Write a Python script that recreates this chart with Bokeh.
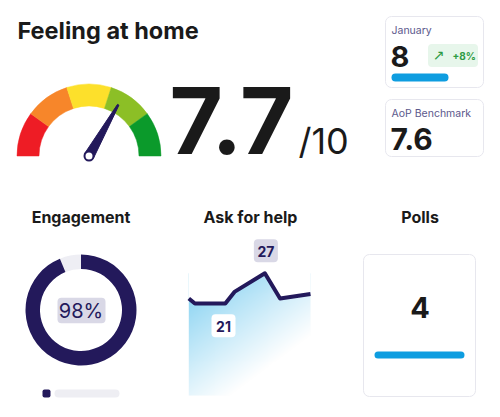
import numpy as np
from bokeh.plotting import figure
from bokeh.models import Range1d
from bokeh.core.properties import value
from bokeh.embed import file_html
from bokeh.resources import INLINE

# ---------------- data ----------------
page_title = "Feeling at home"
score = 7.7
score_suffix = "/10"
gauge_min, gauge_max = 0, 10
gauge_bands = [0, 2, 4, 6, 8, 10]
gauge_colors = ["#EE1C25", "#F7862A", "#FDE02B", "#8CBF26", "#0B9A2B"]
needle_reading = 6.65  # where the pointer sits on the 0-10 dial

card_labels = ["January", "AoP Benchmark"]
card_values = ["8", "7.6"]
month_change = "+8%"

section_titles = ["Engagement", "Ask for help", "Polls"]
engagement_pct = 98
engagement_ring_share = 93.8  # filled share of the ring as drawn

help_x = [0, 1, 6, 7.5, 12.5, 15, 20]
help_count = [22, 21, 21, 23.3, 27, 22, 22.9]
help_floor = 2.7

polls_count = 4

# ---------------- styling ----------------
NAVY = "#23195B"
INK = "#1A1A1A"
BLUE = "#0E9DE0"
CARD_LINE = "#E7E7EE"
LAV = "#D9D8E6"
FONT = value("Inter")
MID = 0.36  # cap-middle above baseline, in em

W, H = 484, 401
X0, Y0 = 0, 0

p = figure(width=W, height=H, x_range=Range1d(X0, X0 + W), y_range=Range1d(-(Y0 + H), -Y0),
           x_axis_type=None, y_axis_type=None, output_backend="svg", toolbar_location=None,
           min_border=0, outline_line_color=None, background_fill_color="white",
           border_fill_color="white")


def txt(x, y, s, size, color=INK, style="normal", align="left", font=FONT, **kw):
    # y is the baseline position in page pixels
    p.text(x=[x], y=[-(y - MID * size)], text=[s], text_font=font, text_font_size=f"{size}px",
           text_color=color, text_font_style=style, text_align=align,
           text_baseline="middle", **kw)


def box(l, r, t, b, fill, line=None, radius=4, lw=1):
    p.quad(left=[l], right=[r], top=[-t], bottom=[-b], fill_color=fill,
           line_color=line, line_width=lw, border_radius=int(radius))


# title
txt(17, 38.3, page_title, 23.5, style="bold")

# gauge
GX, GY, R_IN, R_OUT = 88.5, 155.5, 50, 72


def gauge_angle(v):
    return np.pi * (1 - (v - gauge_min) / (gauge_max - gauge_min))


starts = [gauge_angle(b) for b in gauge_bands[1:]]
ends = [gauge_angle(a) for a in gauge_bands[:-1]]
p.annular_wedge(x=[GX] * len(gauge_colors), y=[-GY] * len(gauge_colors),
                inner_radius=R_IN, outer_radius=R_OUT, start_angle=starts, end_angle=ends,
                fill_color=gauge_colors, line_color=gauge_colors, line_width=0.5)

th = gauge_angle(needle_reading)
d = np.array([np.cos(th), np.sin(th)])
n = np.array([-np.sin(th), np.cos(th)])
c = np.array([GX, -GY])
L, hb, ht = 59, 5, 0.8
pts = [c + n * hb, c + d * L + n * ht, c + d * L - n * ht, c - n * hb]
p.patch([q[0] for q in pts], [q[1] for q in pts], fill_color=NAVY, line_color=NAVY, line_width=1)
p.scatter(x=[GX], y=[-GY], size=9, marker="circle", fill_color="white", line_color=NAVY, line_width=2)

# big score
txt(169, 153, f"{score:.1f}", 92, style="bold")
txt(298, 153, score_suffix, 36, color=INK)

# cards
box(385, 483, 16, 87, "white", CARD_LINE, radius=6)
box(385, 483, 99, 156, "white", CARD_LINE, radius=6)
txt(391, 33.5, card_labels[0], 10.5, color="#5C588C")
txt(390, 66, card_values[0], 29, style="bold")
box(427.5, 477.5, 43.5, 66.5, "#E7F6EB", None, radius=4)
txt(438, 59.5, "\u2197", 14, color="#2E9B45", align="center", font=value("DejaVu Sans"))
txt(452, 59, month_change, 10, color="#2E9B45", style="bold")
box(391, 448, 73, 81, BLUE, None, radius=4)
txt(391, 117, card_labels[1], 10.5, color="#5C588C")
txt(390, 149, card_values[1], 30, style="bold")

# section titles
for cx, t in zip([80.5, 250, 419.5], section_titles):
    txt(cx, 222, t, 16, style="bold", align="center")

# engagement donut
DX, DY, D_IN, D_OUT = 80.5, 309.5, 41, 55.5
gap = 2 * np.pi * (1 - engagement_ring_share / 100)
p.annular_wedge(x=[DX], y=[-DY], inner_radius=D_IN, outer_radius=D_OUT,
                start_angle=np.pi / 2, end_angle=np.pi / 2 + gap,
                fill_color="#EEEEF4", line_color=None)
p.annular_wedge(x=[DX], y=[-DY], inner_radius=D_IN, outer_radius=D_OUT,
                start_angle=np.pi / 2 + gap, end_angle=np.pi / 2 + 2 * np.pi,
                fill_color=NAVY, line_color=None)
box(57, 105, 297.3, 322.7, LAV, None, radius=4)
txt(DX, 317.7, f"{engagement_pct}%", 20, color=NAVY, align="center")
box(42, 50, 389, 397, NAVY, None, radius=2)
box(54, 119, 389, 397, "#EEEEF3", None, radius=4)

# ask for help area chart (own scales mapped into its box)
BX_L, BX_R, BY_B, BY_T = 188.3, 310.0, 395.0, 272.8
hx_lo, hx_hi = min(help_x), max(help_x)
hy_lo, hy_hi = help_floor, max(help_count)
kx = (BX_R - BX_L) / (hx_hi - hx_lo)
ky = (BY_B - BY_T) / (hy_hi - hy_lo)
sx = hx_lo - (BX_L - X0) / kx
sy = hy_lo - ((Y0 + H) - BY_B) / ky
p.extra_x_ranges = {"hx": Range1d(sx, sx + W / kx)}
p.extra_y_ranges = {"hy": Range1d(sy, sy + H / ky)}
R = dict(x_range_name="hx", y_range_name="hy")

nx, ny = 124, 124
u = np.linspace(0, 1, nx)[None, :]
v = 1 - np.linspace(0, 1, ny)[:, None]   # 0 at top, row 0 at bottom
t = np.clip(0.6 * u + 0.8 * v, 0, 1) ** 0.9
A = np.array([118, 204, 240])
img = np.empty((ny, nx), dtype=np.uint32)
view = img.view(dtype=np.uint8).reshape((ny, nx, 4))
for ch in range(3):
    view[:, :, ch] = (A[ch] * (1 - t) + 255 * t).astype(np.uint8)
view[:, :, 3] = 255
p.image_rgba(image=[img], x=hx_lo, y=hy_lo, dw=hx_hi - hx_lo, dh=hy_hi - hy_lo, **R)
p.varea(x=help_x, y1=help_count, y2=[hy_hi + 1] * len(help_x), fill_color="white", **R)
p.line(help_x, help_count, line_width=4, line_color=NAVY, line_join="round", **R)

imax = int(np.argmax(help_count))
imin = len(help_count) - 1 - int(np.argmin(help_count[::-1]))
for i, fill, dxp, dyp in [(imax, LAV, 1.0, -22.6), (imin, "white", -1.8, 22.3)]:
    xc = help_x[i] + dxp / kx
    yc = help_count[i] - dyp / ky
    p.rect(x=[xc], y=[yc], width=24, height=23, width_units="screen", height_units="screen",
           fill_color=fill, line_color=None, border_radius=4, **R)
    p.text(x=[xc], y=[yc], text=[f"{help_count[i]:g}"], text_font=FONT, text_font_size="14px",
           text_font_style="bold", text_color=NAVY, text_align="center",
           text_baseline="middle", y_offset=1, **R)

# polls
box(363, 475, 254, 396, "white", CARD_LINE, radius=6)
txt(419.5, 317, str(polls_count), 29, style="bold", align="center")
box(374, 464, 351, 358, BLUE, None, radius=4)

open("out.html", "w").write(file_html(p, INLINE))
